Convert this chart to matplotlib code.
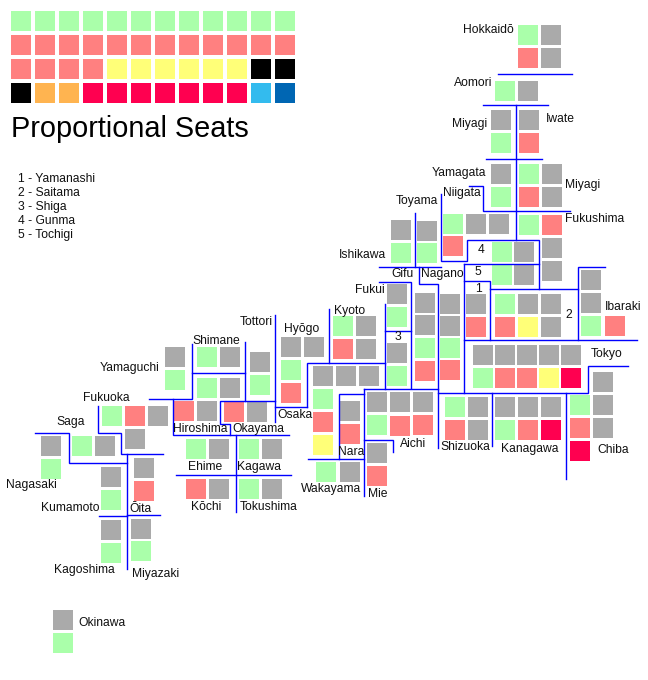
import matplotlib
matplotlib.use('Agg')
import matplotlib.pyplot as plt
from matplotlib.patches import Rectangle

plt.rcParams['font.family'] = ['Liberation Sans', 'DejaVu Sans']

# G = green, R = red, Y = yellow, K = black, O = orange, C = crimson, L = light blue, B = blue, X = grey
colors = {'G': '#aaffaa', 'R': '#ff8080', 'Y': '#ffff78', 'K': '#000000', 'O': '#ffb450',
          'C': '#ff0050', 'L': '#33bbee', 'B': '#0066b3', 'X': '#aaaaaa'}

# proportional block, one string per row
prop_rows = ['GGGGGGGGGGGG', 'RRRRRRRRRRRR', 'RRRRYYYYYYKK', 'KOOCCCCCCCLB']

# seats per district
district_seats = ['GXRX', 'GX', 'XG', 'XR', 'XG', 'GXRX', 'GRXX', 'GXXR', 'XG', 'XG', 'GX', 'GX',
                  'XR', 'GXXRYX', 'XXGR', 'XXGR', 'XXGR', 'XG', 'XG', 'XXXXXGRRYC', 'GXRX',
                  'XXGR', 'XG', 'GX', 'XG', 'GXRX', 'RX', 'XXXGRY', 'XR', 'XXXGRR', 'XR', 'GX',
                  'GXRX', 'XXXGRC', 'XGXRXC', 'GX', 'GX', 'RX', 'GX', 'GRXX', 'GX', 'XG', 'XG',
                  'XR', 'XG', 'XG', 'XG']

# top left corner of each seat, in image pixels, same order as district_seats
seat_xy = [
    [(518, 25), (541, 25), (518, 48), (541, 48)],  # Hokkaido
    [(495, 81), (518, 81)],  # Aomori
    [(491, 110), (491, 133)],  # Miyagi, north
    [(519, 110), (519, 133)],  # Iwate
    [(491, 164), (491, 187)],  # Yamagata
    [(519, 164), (542, 164), (519, 187), (542, 187)],  # Miyagi
    [(519, 215), (542, 215), (542, 238), (542, 261)],  # Fukushima
    [(443, 214), (466, 214), (489, 214), (443, 236)],  # Niigata
    [(391, 220), (391, 243)],  # Ishikawa
    [(417, 221), (417, 243)],  # Toyama
    [(492, 242), (514, 242)],  # Gunma
    [(492, 265), (514, 265)],  # Tochigi
    [(466, 294), (466, 317)],  # Yamanashi
    [(495, 294), (518, 294), (541, 294), (495, 317), (518, 317), (541, 317)],  # Saitama
    [(581, 270), (581, 293), (581, 316), (605, 316)],  # Ibaraki
    [(415, 293), (415, 315), (415, 338), (415, 361)],  # Gifu
    [(440, 294), (440, 316), (440, 338), (440, 360)],  # Nagano
    [(387, 284), (387, 307)],  # Fukui
    [(387, 343), (387, 366)],  # Shiga
    [(473, 345), (495, 345), (517, 345), (539, 345), (561, 345),
     (473, 368), (495, 368), (517, 368), (539, 368), (561, 368)],  # Tokyo
    [(333, 316), (356, 316), (333, 339), (356, 339)],  # Kyoto
    [(281, 337), (304, 337), (281, 360), (281, 383)],  # Hyogo
    [(250, 352), (250, 375)],  # Tottori
    [(197, 347), (220, 347)],  # Shimane
    [(165, 347), (165, 370)],  # Yamaguchi
    [(197, 378), (220, 378), (174, 401), (197, 401)],  # Hiroshima
    [(224, 402), (247, 402)],  # Okayama
    [(313, 366), (336, 366), (359, 366), (313, 389), (313, 412), (313, 435)],  # Osaka
    [(340, 401), (340, 424)],  # Nara
    [(367, 392), (390, 392), (413, 392), (367, 415), (390, 416), (413, 415)],  # Aichi
    [(367, 443), (367, 466)],  # Mie
    [(316, 462), (340, 462)],  # Wakayama
    [(445, 397), (468, 397), (445, 420), (468, 420)],  # Shizuoka
    [(495, 397), (518, 397), (541, 397), (495, 420), (518, 420), (541, 420)],  # Kanagawa
    [(593, 372), (570, 395), (593, 395), (570, 418), (593, 418), (570, 441)],  # Chiba
    [(186, 439), (209, 439)],  # Ehime
    [(239, 439), (262, 439)],  # Kagawa
    [(186, 479), (209, 479)],  # Kochi
    [(239, 479), (262, 479)],  # Tokushima
    [(102, 406), (125, 406), (148, 406), (125, 429)],  # Fukuoka
    [(72, 436), (95, 436)],  # Saga
    [(41, 436), (41, 459)],  # Nagasaki
    [(101, 467), (101, 490)],  # Kumamoto
    [(134, 458), (134, 481)],  # Oita
    [(101, 520), (101, 543)],  # Kagoshima
    [(131, 519), (131, 541)],  # Miyazaki
    [(53, 610), (53, 633)],  # Okinawa
]

# region names and where they sit (centre x, baseline y)
label_names = ['Hokkaidō', 'Aomori', 'Miyagi', 'Iwate', 'Yamagata', 'Miyagi', 'Niigata', 'Fukushima',
               'Toyama', 'Ishikawa', 'Gifu', 'Nagano', 'Fukui', 'Kyoto', 'Ibaraki', 'Tokyo', 'Aichi',
               'Shizuoka', 'Kanagawa', 'Chiba', 'Nara', 'Wakayama', 'Mie', 'Tottori', 'Hyōgo',
               'Shimane', 'Yamaguchi', 'Osaka', 'Hiroshima', 'Okayama', 'Ehime', 'Kagawa', 'Kōchi',
               'Tokushima', 'Fukuoka', 'Saga', 'Nagasaki', 'Kumamoto', 'Ōita', 'Kagoshima',
               'Miyazaki', 'Okinawa', '1', '2', '3', '4', '5']
label_xy = [(488, 33), (473, 86), (470, 127), (560, 122), (459, 176), (583, 188), (462, 196), (595, 222),
            (417, 204), (362, 258), (402, 277), (442, 277), (370, 293), (350, 314), (623, 310), (607, 357),
            (413, 447), (465, 450), (530, 452), (613, 453), (351, 455), (331, 492), (378, 497), (256, 325),
            (302, 332), (216, 344), (130, 371), (295, 418), (200, 432), (258, 432), (205, 470), (259, 470),
            (206, 510), (269, 510), (106, 401), (71, 425), (31, 488), (70, 511), (140, 512), (84, 573),
            (156, 577), (102, 626), (478, 292), (569, 318), (398, 340), (481, 253), (478, 275)]

key_labels = ['1 - Yamanashi', '2 - Saitama', '3 - Shiga', '4 - Gunma', '5 - Tochigi']
key_y = [182, 196, 210, 224, 238]

# blue borders between districts
borders = [
    [(497, 73), (571, 73)],
    [(482, 104), (547, 104)],
    [(515, 104), (515, 239)],
    [(485, 158), (541, 158)],
    [(468, 185), (482, 185), (482, 210), (569, 210)],
    [(440, 193), (440, 260), (466, 260), (466, 239), (538, 239), (538, 288)],
    [(463, 263), (538, 263)],
    [(463, 263), (463, 392)],
    [(463, 280), (489, 280), (489, 339)],
    [(489, 288), (577, 288)],
    [(604, 266), (577, 266), (577, 339)],
    [(463, 339), (636, 339)],
    [(414, 212), (414, 266)],
    [(378, 266), (440, 266)],
    [(418, 266), (418, 283), (437, 283), (437, 447)],
    [(378, 281), (410, 281), (410, 387)],
    [(384, 330), (410, 330)],
    [(384, 303), (384, 388)],
    [(363, 388), (437, 388)],
    [(437, 392), (587, 392), (587, 365), (627, 365)],
    [(491, 392), (491, 445)],
    [(565, 392), (565, 478)],
    [(306, 406), (306, 362), (384, 362)],
    [(328, 308), (328, 362)],
    [(274, 314), (274, 421)],
    [(274, 406), (306, 406)],
    [(244, 341), (244, 400)],
    [(191, 372), (244, 372)],
    [(191, 343), (191, 398), (148, 398)],
    [(274, 400), (219, 400), (219, 423), (229, 423), (229, 434)],
    [(172, 398), (172, 434), (288, 434)],
    [(235, 434), (235, 511)],
    [(175, 474), (290, 474)],
    [(307, 458), (363, 458)],
    [(338, 458), (338, 393), (363, 393)],
    [(363, 388), (363, 495)],
    [(363, 439), (392, 439), (392, 451)],
    [(34, 432), (68, 432), (68, 462), (126, 462)],
    [(126, 453), (126, 568)],
    [(97, 405), (97, 432), (120, 432), (120, 453), (162, 453)],
    [(98, 515), (126, 515)],
    [(126, 514), (159, 514)],
]

fig = plt.figure(figsize=(6.48, 6.8), dpi=100)
ax = fig.add_axes([0, 0, 1, 1])
ax.set_xlim(0, 648)
ax.set_ylim(680, 0)
ax.axis('off')


def draw_seat(x, y, party):
    ax.add_patch(Rectangle((x, y), 20, 20, facecolor=colors[party], edgecolor='none', antialiased=False))


for r, row in enumerate(prop_rows):
    for c, party in enumerate(row):
        draw_seat(11 + 24 * c, 11 + 24 * r, party)

for seats, xy in zip(district_seats, seat_xy):
    for party, (x, y) in zip(seats, xy):
        draw_seat(x, y, party)

for line in borders:
    ax.plot([p[0] + 0.5 for p in line], [p[1] + 0.5 for p in line], color='#0000ff',
            linewidth=1.0, solid_capstyle='projecting', solid_joinstyle='miter')

for name, (x, y) in zip(label_names, label_xy):
    ax.text(x, y, name, fontsize=8.7, ha='center', va='baseline', color='#111111')

for name, y in zip(key_labels, key_y):
    ax.text(18, y, name, fontsize=8.7, ha='left', va='baseline', color='#111111')

ax.text(11, 137, 'Proportional Seats', fontsize=20.8, ha='left', va='baseline', color='#000000')

fig.savefig('out.png', dpi=100)
